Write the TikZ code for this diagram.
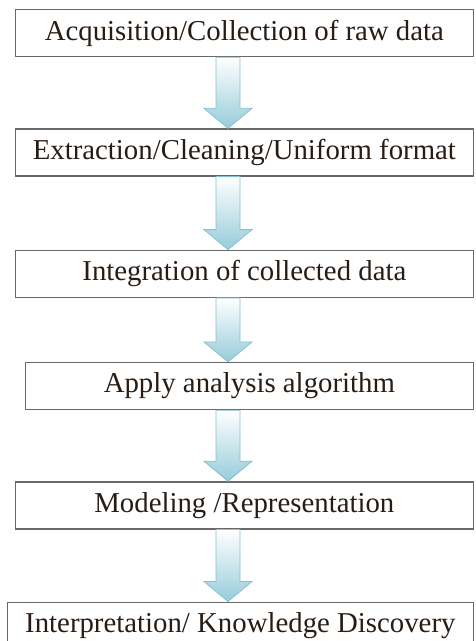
\documentclass[tikz,border=0pt]{standalone}
\usepackage{fontspec}
\setmainfont{Liberation Serif}
\usetikzlibrary{positioning, calc}
\definecolor{boxline}{RGB}{105,105,105}
\definecolor{boxtext}{RGB}{40,28,20}
\definecolor{arrowblue}{RGB}{150,204,218}
\definecolor{arrowedge}{RGB}{135,192,208}
\tikzset{
  box/.style={rectangle,draw=boxline,line width=1.3pt,align=center,inner sep=0pt,minimum height=47pt,text=boxtext,font=\fontsize{28.8}{32}\selectfont},
  fat/.style={draw=arrowedge,line width=0.8pt,top color=white,bottom color=arrowblue}
}
% block arrow from the bottom of #1 to the top of #2, on the line x = ax
\newcommand{\fatarrow}[2]{%
  \path[fat] ($(#1.south -| ax)+(-12pt,0)$) -- ($(#2.north -| ax)+(-12pt,20pt)$)
    -- ($(#2.north -| ax)+(-24pt,20pt)$) -- (#2.north -| ax)
    -- ($(#2.north -| ax)+(24pt,20pt)$) -- ($(#2.north -| ax)+(12pt,20pt)$)
    -- ($(#1.south -| ax)+(12pt,0)$) -- cycle;}

\begin{document}
\begin{tikzpicture}[x=1pt,y=1pt]
\useasboundingbox (0,0) rectangle (475,-641);
\coordinate (ax) at (228,0);
\node[box, minimum width=458pt, anchor=north east] (acq) at (474,-9) {Acquisition/Collection of raw data};
\node[box, minimum width=458pt, below=71pt of acq.south east, anchor=north east] (extr) {Extraction/Cleaning/Uniform format};
\node[box, minimum width=458pt, below=73pt of extr.south east, anchor=north east] (integ) {Integration of collected data};
\node[box, minimum width=448pt, below=64pt of integ.south east, anchor=north east] (apply) {Apply analysis algorithm};
\node[box, minimum width=458pt, below=71pt of apply.south east, anchor=north east] (model) {Modeling /Representation};
\node[box, minimum width=466pt, below=72pt of model.south east, anchor=north east] (interp) {Interpretation/ Knowledge Discovery};
\fatarrow{acq}{extr}
\fatarrow{extr}{integ}
\fatarrow{integ}{apply}
\fatarrow{apply}{model}
\fatarrow{model}{interp}
\end{tikzpicture}
\end{document}
